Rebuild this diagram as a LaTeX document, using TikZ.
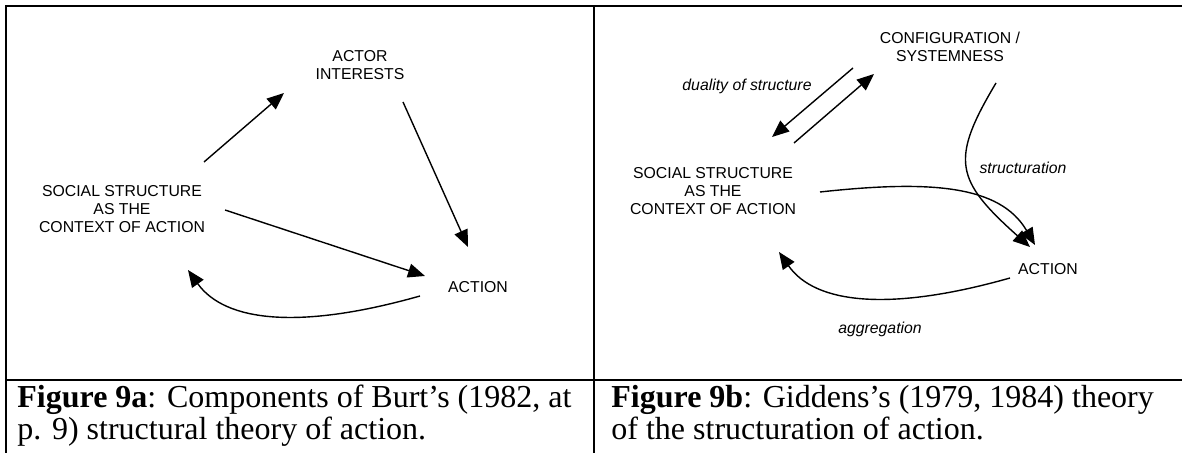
\documentclass[tikz,border=0pt]{standalone}
\usepackage{fontspec}
\setmainfont{Liberation Serif}
\newfontfamily\labelfont{Liberation Sans}
\usetikzlibrary{arrows.meta}

\begin{document}
\begin{tikzpicture}[x=0.5pt, y=-0.5pt,
  lbl/.style={font=\labelfont\fontsize{7.9}{9.2}\selectfont, align=center, inner sep=0pt},
  itl/.style={font=\labelfont\itshape\fontsize{7.9}{9.2}\selectfont, inner sep=0pt},
  arr/.style={-{Triangle[length=8.5pt,width=7pt]}, line width=0.7pt},
  captxt/.style={font=\fontsize{16}{16}\selectfont, align=left, anchor=base west, inner sep=0pt},
  frame/.style={line width=0.85pt}]
\useasboundingbox (0,0) rectangle (1182,453);
% Table lines
\draw[frame] (6,453) -- (6,6) -- (1182,6);
\draw[frame] (6,380) -- (1182,380);
\draw[frame] (594,6) -- (594,453);
% Figure 9a
\node[lbl] (ai) at (360,65) {ACTOR\\INTERESTS};
\node[lbl] (soc) at (122,209) {SOCIAL STRUCTURE\\AS THE\\CONTEXT OF ACTION};
\node[lbl] (act) at (478,287) {ACTION};
\draw[arr] ([shift={(82,-47)}]soc.center) -- ([shift={(-76,28)}]ai.center);
\draw[arr] ([shift={(43,37)}]ai.center) -- ([shift={(-10,-40)}]act.center);
\draw[arr] ([shift={(103,1)}]soc.center) -- ([shift={(-53,-11)}]act.center);
\draw[arr] ([shift={(-58,9)}]act.center) .. controls (300,330) and (225,322) .. ([shift={(66,61)}]soc.center);
% Figure 9b
\node[lbl] (cs) at (950,47) {CONFIGURATION /\\SYSTEMNESS};
\node[lbl] (soc2) at (713,191) {SOCIAL STRUCTURE\\AS THE\\CONTEXT OF ACTION};
\node[lbl] (act2) at (1048,269) {ACTION};
\node[itl] (dual) at (747,86) {duality of structure};
\node[itl] (struc) at (1023,168) {structuration};
\node[itl] (aggr) at (880,329) {aggregation};
\draw[arr] ([shift={(-97,21)}]cs.center) -- ([shift={(59,-54)}]soc2.center);
\draw[arr] ([shift={(81,-48)}]soc2.center) -- ([shift={(-76,27)}]cs.center);
\draw[arr] ([shift={(46,36)}]cs.center) .. controls (950,160) and (955,180) .. ([shift={(-18,-22)}]act2.center);
\draw[arr] ([shift={(107,1)}]soc2.center) .. controls (930,180) and (1000,185) .. ([shift={(-13,-24)}]act2.center);
\draw[arr] ([shift={(-38,9)}]act2.center) .. controls (890,312) and (815,304) .. ([shift={(66,61)}]soc2.center);
% Captions
\node[captxt] (capa) at (17,440) {\textbf{Figure 9a}: Components of Burt’s (1982, at\\p. 9) structural theory of action.};
\node[captxt] (capb) at (611,440) {\textbf{Figure 9b}: Giddens’s (1979, 1984) theory\\of the structuration of action.};
\end{tikzpicture}
\end{document}
